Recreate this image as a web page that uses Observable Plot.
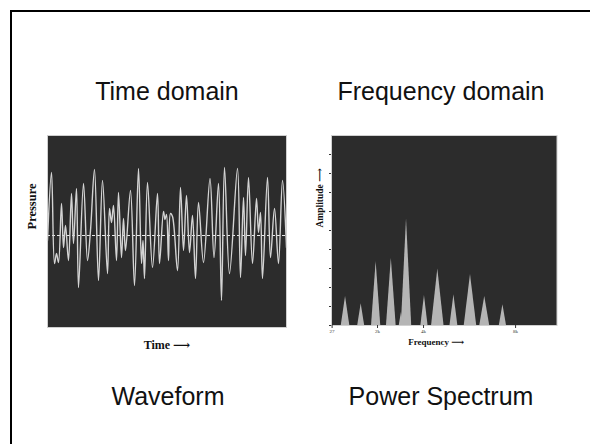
<!DOCTYPE html>
<html>
<head>
<meta charset="utf-8">
<script src="https://cdn.jsdelivr.net/npm/d3@7"></script>
<script src="https://cdn.jsdelivr.net/npm/@observablehq/plot@0.6"></script>
<style>
  body { margin: 0; background: #fff; }
  #page { position: relative; width: 590px; height: 444px; overflow: hidden; background: #fff;
          font-family: "Liberation Sans", Arial, sans-serif; }
  #border { position: absolute; left: 10px; top: 10px; width: 700px; height: 700px;
            border-left: 2px solid #000; border-top: 2px solid #000; }
  .title { position: absolute; font-size: 25px; color: #111; transform: translateX(-50%);
           white-space: nowrap; line-height: 1; }
  .panel { position: absolute; }
</style>
</head>
<body>
<div id="page">
  <div id="border"></div>
  <div class="title" style="left:167px; top:79px;">Time domain</div>
  <div class="title" style="left:441px; top:79px;">Frequency domain</div>
  <div class="title" style="left:168px; top:384px;">Waveform</div>
  <div class="title" style="left:441px; top:384px;">Power Spectrum</div>
  <div class="panel" id="left" style="left:0px; top:120px;"></div>
  <div class="panel" id="right" style="left:300px; top:120px;"></div>
</div>
<script>
// ---- Waveform (time domain): successive extremes ----
const waveTime = [0, 4, 7, 9, 11, 14, 16, 18, 21, 24, 26, 29, 31, 36, 40, 43, 47, 51, 55, 60,
  62, 64, 66, 69, 71, 74, 76, 78, 83, 87, 91, 94, 95.5, 97, 100, 105, 110, 112, 116, 117.5,
  119, 121, 123, 125, 130, 133, 136, 139, 142, 145, 148, 151, 156, 162.5, 166.5, 171, 174, 177, 182, 190,
  193, 196, 198, 201, 205, 209, 211, 213, 215, 220, 223, 227, 231, 235, 239];
const wavePressure = [-5, 63, -28, -18, -27, 32, -12, 10, -25, 42, -8, 47, -52, 52, -25, 5, 66, -45, 55, -38,
  27, 13, 30, -25, 43, -22, 17, -15, 45, -50, 67, -28, -5, -43, 53, -32, 42, -28, 24, 16,
  21, -25, 22, 19, -35, 48, -15, 40, -17, 20, -43, 33, -27, 57, -22, 52, -65, 68, -38, 67,
  -42, 38, -20, 58, -28, 37, 3, 23, -43, 58, -22, 27, -28, 55, -12];
const timeLabel = "Time \u27F6";
const pressureLabel = "Pressure";

// ---- Power spectrum (frequency domain) ----
const peakFreq = [610, 1290, 1940, 2600, 3040, 3260, 4040, 4620, 5320, 6040, 6660, 7450];
const peakAmp = [0.153, 0.114, 0.337, 0.354, 0.07, 0.562, 0.158, 0.298, 0.162, 0.268, 0.153, 0.109];
const peakHalfWidth = [185, 150, 200, 210, 95, 225, 155, 270, 170, 270, 215, 155];
const freqTicks = [27, 2000, 4000, 8000];
const freqTickLabels = ["27", "2k", "4k", "8k"];
const ampTicks = [0, 0.1, 0.2, 0.3, 0.4, 0.5, 0.6, 0.7, 0.8, 0.9];
const freqLabel = "Frequency \u27F6";
const ampLabel = "Amplitude \u27F6";

const dark = "#2c2c2c";
const serif = "'Liberation Serif', 'Times New Roman', 'DejaVu Serif', serif";

const wave = waveTime.map((t, i) => ({t, p: wavePressure[i]}));

const leftPlot = Plot.plot({
  width: 300, height: 240,
  marginLeft: 47, marginRight: 14, marginTop: 15, marginBottom: 33,
  x: {domain: [0, 239], axis: null},
  y: {domain: [-92, 100], axis: null},
  style: {background: "transparent", color: "#111"},
  marks: [
    Plot.frame({fill: dark, stroke: "#cfcfcf", strokeWidth: 1}),
    Plot.ruleY([0], {stroke: "#e8e8e8", strokeDasharray: "3,2", strokeWidth: 1.2}),
    Plot.line(wave, {x: "t", y: "p", curve: "catmull-rom", stroke: "#d4d4d4", strokeWidth: 1.4}),
    Plot.text([timeLabel], {frameAnchor: "bottom", dy: 21, fontFamily: serif, fontWeight: "bold", fontSize: 12, fill: "#111"}),
    Plot.text([pressureLabel], {frameAnchor: "left", dx: -16, dy: -2, rotate: -90, fontFamily: serif, fontWeight: "bold", fontSize: 12.5, fill: "#111"})
  ]
});
document.getElementById("left").appendChild(leftPlot);

const spectrum = [];
peakFreq.forEach((f, i) => {
  spectrum.push({id: i, f: f - peakHalfWidth[i], a: 0});
  spectrum.push({id: i, f: f, a: peakAmp[i]});
  spectrum.push({id: i, f: f + peakHalfWidth[i], a: 0});
});

const rightPlot = Plot.plot({
  width: 280, height: 240,
  marginLeft: 31, marginRight: 23.5, marginTop: 15, marginBottom: 35,
  x: {domain: [0, 9800]},
  y: {domain: [0, 1]},
  style: {background: "transparent", color: "#333", fontFamily: serif},
  marks: [
    Plot.frame({fill: dark}),
    Plot.areaY(spectrum, {x: "f", y: "a", z: "id", fill: "#b5b5b5"}),
    Plot.frame({stroke: "#d0d0d0"}),
    Plot.axisX({ticks: freqTicks, tickFormat: d => freqTickLabels[freqTicks.indexOf(d)], tickSize: 3, tickPadding: 1, fontSize: 5, label: null}),
    Plot.axisY({ticks: ampTicks, tickFormat: () => "", tickSize: 2, label: null}),
    Plot.text([freqLabel], {frameAnchor: "bottom", dx: -8, dy: 19, fontFamily: serif, fontWeight: "bold", fontSize: 9, fill: "#111"}),
    Plot.text([ampLabel], {frameAnchor: "left", dx: -12, dy: -3, rotate: -90, fontFamily: serif, fontWeight: "bold", fontSize: 9.5, fill: "#111"})
  ]
});
document.getElementById("right").appendChild(rightPlot);
</script>
</body>
</html>
